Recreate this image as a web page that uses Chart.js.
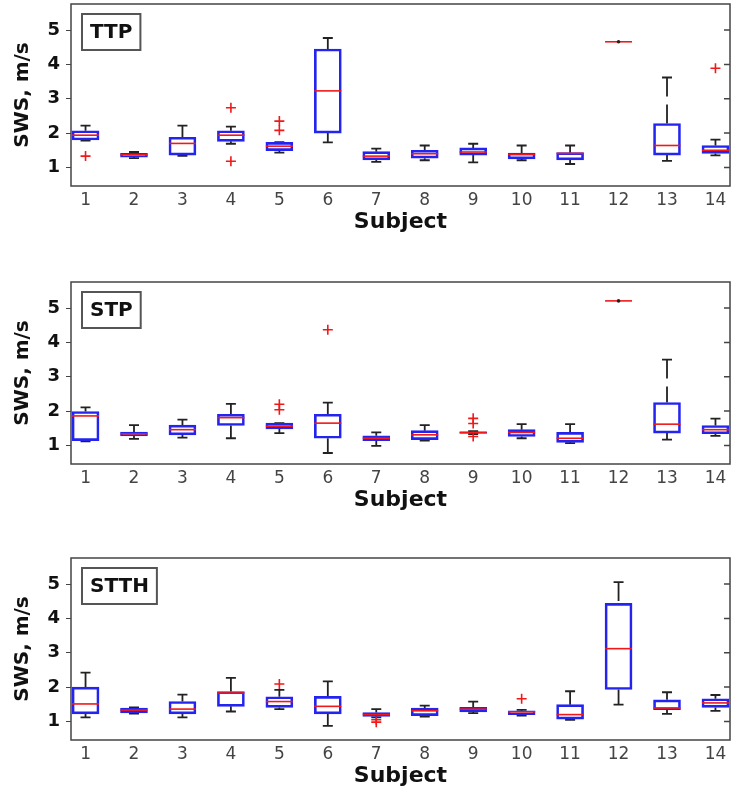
<!DOCTYPE html>
<html>
<head>
<meta charset="utf-8">
<script src="https://cdn.jsdelivr.net/npm/chart.js@4.4.0/dist/chart.umd.min.js"></script>
<style>
  body { margin: 0; background: #fff; overflow: hidden; }
  canvas { position: absolute; left: 0; }
</style>
</head>
<body>
<canvas id="ttpChart" width="731" height="236" style="top:0px"></canvas>
<canvas id="stpChart" width="731" height="236" style="top:278px"></canvas>
<canvas id="stthChart" width="731" height="236" style="top:554px"></canvas>
<script>
const subjects = [1, 2, 3, 4, 5, 6, 7, 8, 9, 10, 11, 12, 13, 14];
const yTicks = [1, 2, 3, 4, 5];

// TTP
const ttpLow    = [1.78, 1.27, 1.34, 1.69, 1.43, 1.73, 1.16, 1.21, 1.15, 1.21, 1.10, 4.66, 1.19, 1.35];
const ttpQ1     = [1.80, 1.30, 1.36, 1.76, 1.49, 2.00, 1.22, 1.27, 1.36, 1.25, 1.22, 4.66, 1.36, 1.41];
const ttpMedian = [1.94, 1.37, 1.70, 1.94, 1.62, 3.23, 1.33, 1.40, 1.45, 1.38, 1.41, 4.66, 1.64, 1.50];
const ttpQ3     = [2.07, 1.41, 1.88, 2.07, 1.73, 4.45, 1.46, 1.50, 1.57, 1.42, 1.43, 4.66, 2.28, 1.64];
const ttpHigh   = [2.22, 1.45, 2.22, 2.19, 1.74, 4.77, 1.55, 1.64, 1.69, 1.64, 1.64, 4.66, 3.62, 1.81];
const ttpOutliers = [[1, 1.33], [4, 2.74], [4, 1.18], [5, 2.35], [5, 2.08], [14, 3.89]];

// STP
const stpLow    = [1.12, 1.19, 1.23, 1.21, 1.36, 0.78, 0.99, 1.14, 1.33, 1.21, 1.07, 5.21, 1.17, 1.28];
const stpQ1     = [1.14, 1.28, 1.31, 1.58, 1.48, 1.21, 1.14, 1.17, 1.35, 1.26, 1.09, 5.21, 1.36, 1.34];
const stpMedian = [1.86, 1.34, 1.46, 1.81, 1.56, 1.65, 1.21, 1.31, 1.38, 1.38, 1.21, 5.21, 1.62, 1.46];
const stpQ3     = [1.99, 1.39, 1.59, 1.91, 1.65, 1.91, 1.28, 1.43, 1.40, 1.46, 1.38, 5.21, 2.25, 1.58];
const stpHigh   = [2.11, 1.59, 1.75, 2.21, 1.65, 2.25, 1.38, 1.59, 1.42, 1.62, 1.62, 5.21, 3.50, 1.78];
const stpOutliers = [[5, 2.20], [5, 2.04], [6, 4.37], [9, 1.79], [9, 1.64], [9, 1.26]];

// STTH
const stthLow    = [1.12, 1.23, 1.12, 1.29, 1.36, 0.87, 1.12, 1.14, 1.24, 1.17, 1.05, 1.49, 1.22, 1.31];
const stthQ1     = [1.22, 1.25, 1.22, 1.44, 1.41, 1.22, 1.15, 1.17, 1.28, 1.20, 1.07, 1.93, 1.34, 1.41];
const stthMedian = [1.51, 1.33, 1.36, 1.83, 1.58, 1.44, 1.20, 1.31, 1.36, 1.28, 1.20, 3.12, 1.39, 1.54];
const stthQ3     = [2.00, 1.39, 1.58, 1.87, 1.72, 1.73, 1.26, 1.39, 1.41, 1.31, 1.49, 4.44, 1.63, 1.66];
const stthHigh   = [2.42, 1.41, 1.78, 2.27, 1.92, 2.17, 1.36, 1.46, 1.58, 1.34, 1.88, 5.06, 1.85, 1.77];
const stthOutliers = [[5, 2.09], [7, 1.05], [7, 0.98], [10, 1.66]];

// whiskers, medians, frame and the panel label drawn on top of the bar chart
const boxExtras = {
    id: 'boxExtras',
    beforeDatasetsDraw(chart) {
        const o = chart.options.plugins.boxExtras;
        const x = chart.scales.x, y = chart.scales.y;
        const ctx = chart.ctx;
        ctx.save();
        ctx.strokeStyle = '#222';
        ctx.lineWidth = 1.8;
        subjects.forEach((s, i) => {
            if (o.high[i] === o.low[i]) return;
            const px = x.getPixelForValue(s);
            const yHi = y.getPixelForValue(o.high[i]);
            const yLo = y.getPixelForValue(o.low[i]);
            const yQ1 = y.getPixelForValue(o.q1[i]);
            const yQ3 = y.getPixelForValue(o.q3[i]);
            ctx.setLineDash([19, 8]);
            ctx.beginPath();
            ctx.moveTo(px, yHi); ctx.lineTo(px, yQ3);
            ctx.moveTo(px, yLo); ctx.lineTo(px, yQ1);
            ctx.stroke();
            ctx.setLineDash([]);
            ctx.beginPath();
            ctx.moveTo(px - 5, yHi); ctx.lineTo(px + 5, yHi);
            ctx.moveTo(px - 5, yLo); ctx.lineTo(px + 5, yLo);
            ctx.stroke();
        });
        ctx.restore();
    },
    afterDatasetsDraw(chart) {
        const o = chart.options.plugins.boxExtras;
        const x = chart.scales.x, y = chart.scales.y;
        const ctx = chart.ctx;
        const bars = chart.getDatasetMeta(0).data;
        ctx.save();
        subjects.forEach((s, i) => {
            const px = x.getPixelForValue(s);
            const half = bars[i].width / 2;
            const py = y.getPixelForValue(o.median[i]);
            ctx.strokeStyle = '#f01818';
            ctx.lineWidth = 1.6;
            ctx.beginPath();
            ctx.moveTo(px - half, py); ctx.lineTo(px + half, py);
            ctx.stroke();
            if (o.high[i] === o.low[i]) {
                ctx.fillStyle = '#222';
                ctx.beginPath();
                ctx.arc(px, py, 1.8, 0, Math.PI * 2);
                ctx.fill();
            }
        });
        ctx.restore();
    },
    afterDraw(chart) {
        const o = chart.options.plugins.boxExtras;
        const a = chart.chartArea;
        const y = chart.scales.y;
        const ctx = chart.ctx;
        ctx.save();
        ctx.strokeStyle = '#444';
        ctx.lineWidth = 1.5;
        ctx.strokeRect(a.left, a.top, a.right - a.left, a.bottom - a.top);
        ctx.beginPath();
        yTicks.forEach(v => {
            const py = y.getPixelForValue(v);
            ctx.moveTo(a.right, py); ctx.lineTo(a.right - 6, py);
        });
        ctx.stroke();
        // panel label
        ctx.font = 'bold 20px "DejaVu Sans"';
        const w = ctx.measureText(o.label).width + 16;
        const bx = a.left + 11, by = a.top + 10;
        ctx.fillStyle = '#fff';
        ctx.fillRect(bx, by, w, 36);
        ctx.strokeStyle = '#555';
        ctx.lineWidth = 2;
        ctx.strokeRect(bx, by, w, 36);
        ctx.fillStyle = '#111';
        ctx.textBaseline = 'middle';
        ctx.fillText(o.label, bx + 8, by + 19);
        ctx.restore();
    }
};

function makePanel(id, label, low, q1, median, q3, high, outliers) {
    const ctx = document.getElementById(id).getContext('2d');
    return new Chart(ctx, {
        type: 'bar',
        data: {
            datasets: [{
                data: subjects.map((s, i) => ({ x: s, y: [q1[i], q3[i]] })),
                backgroundColor: 'rgba(255,255,255,0)',
                borderColor: '#2424f0',
                borderWidth: 2,
                borderSkipped: false,
                barThickness: 27
            }, {
                type: 'scatter',
                data: outliers.map(p => ({ x: p[0], y: p[1] })),
                pointStyle: 'cross',
                pointRadius: 5,
                borderColor: '#f01818',
                borderWidth: 1.6
            }]
        },
        options: {
            responsive: false,
            animation: false,
            layout: { autoPadding: false, padding: { top: 4, right: 1, left: 0, bottom: 0 } },
            plugins: {
                legend: { display: false },
                tooltip: { enabled: false },
                boxExtras: { label, low, q1, median, q3, high }
            },
            scales: {
                x: {
                    type: 'linear',
                    offset: false,
                    min: 0.7,
                    max: 14.3,
                    afterBuildTicks: axis => { axis.ticks = subjects.map(v => ({ value: v })); },
                    afterFit: axis => { axis.height = 50; axis.paddingLeft = 0; axis.paddingRight = 0; },
                    grid: { display: false, drawTicks: false },
                    border: { display: false },
                    ticks: {
                        padding: 4,
                        color: '#444',
                        font: { family: 'DejaVu Sans', size: 17 }
                    },
                    title: {
                        display: true,
                        text: 'Subject',
                        color: '#111',
                        padding: { top: 0, bottom: 1 },
                        font: { family: 'DejaVu Sans', size: 22, weight: 'bold' }
                    }
                },
                y: {
                    min: 0.46,
                    max: 5.76,
                    afterBuildTicks: axis => { axis.ticks = yTicks.map(v => ({ value: v })); },
                    afterFit: axis => { axis.width = 71; axis.paddingTop = 0; axis.paddingBottom = 0; },
                    grid: { drawOnChartArea: false, drawTicks: true, tickLength: 5, color: '#444' },
                    border: { display: false },
                    ticks: {
                        padding: 6,
                        color: '#111',
                        font: { family: 'DejaVu Sans', size: 18, weight: 'bold' }
                    },
                    title: {
                        display: true,
                        text: 'SWS, m/s',
                        color: '#111',
                        padding: { top: 11, bottom: 0 },
                        font: { family: 'DejaVu Sans', size: 20, weight: 'bold' }
                    }
                }
            }
        },
        plugins: [boxExtras]
    });
}

makePanel('ttpChart', 'TTP', ttpLow, ttpQ1, ttpMedian, ttpQ3, ttpHigh, ttpOutliers);
makePanel('stpChart', 'STP', stpLow, stpQ1, stpMedian, stpQ3, stpHigh, stpOutliers);
makePanel('stthChart', 'STTH', stthLow, stthQ1, stthMedian, stthQ3, stthHigh, stthOutliers);
</script>
</body>
</html>
